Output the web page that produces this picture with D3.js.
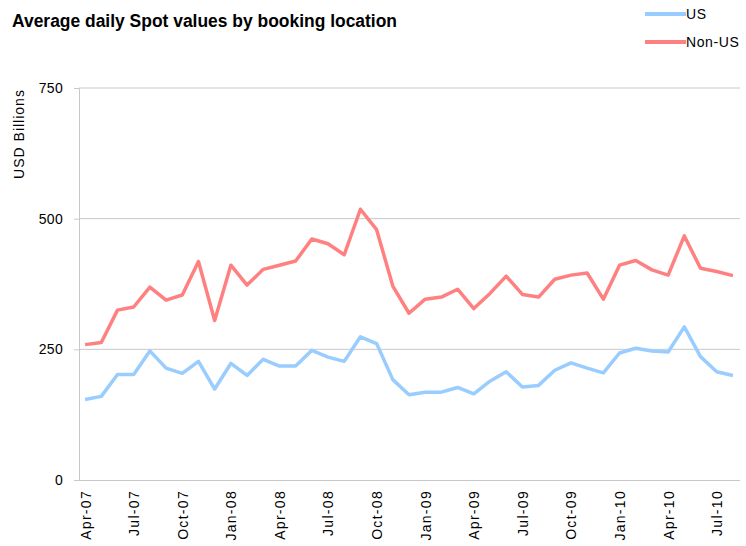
<!DOCTYPE html>
<html lang="en">
<head>
    <meta charset="UTF-8">
    <title>Average daily Spot values by booking location</title>
    <script src="https://d3js.org/d3.v7.min.js"></script>
    <style>
        body { margin: 0; background: #fff; }
        .title {
            font-family: "Liberation Sans Narrow", "Arial Narrow", "Liberation Sans", sans-serif;
            font-weight: bold;
            font-size: 18px;
        }
        .axis text {
            font-family: "Liberation Sans", Arial, sans-serif;
            font-size: 14px;
            fill: #000;
        }
        .axis-label, .legend text {
            font-family: "Liberation Sans", Arial, sans-serif;
            font-size: 14px;
        }
        .line { fill: none; stroke-width: 3.5px; stroke-linejoin: round; }
    </style>
</head>
<body>
    <div id="chart"></div>
    <script>
        // Data
        const months = ["Apr-07","May-07","Jun-07","Jul-07","Aug-07","Sep-07","Oct-07","Nov-07","Dec-07",
                        "Jan-08","Feb-08","Mar-08","Apr-08","May-08","Jun-08","Jul-08","Aug-08","Sep-08",
                        "Oct-08","Nov-08","Dec-08","Jan-09","Feb-09","Mar-09","Apr-09","May-09","Jun-09",
                        "Jul-09","Aug-09","Sep-09","Oct-09","Nov-09","Dec-09","Jan-10","Feb-10","Mar-10",
                        "Apr-10","May-10","Jun-10","Jul-10","Aug-10"];
        const usValues = [154,160,202,202,247,214,204,227,174,223,200,231,218,218,248,235,227,274,
                          261,192,163,168,168,177,165,189,207,178,181,210,224,214,205,243,252,247,
                          245,293,236,207,200];
        const nonUsValues = [259,263,325,331,369,344,354,418,305,411,373,403,411,419,461,452,431,518,
                             479,371,319,346,350,365,328,357,390,355,350,384,392,396,346,411,420,402,
                             392,467,405,399,391];
        const tickLabels = ["Apr-07","Jul-07","Oct-07","Jan-08","Apr-08","Jul-08","Oct-08","Jan-09",
                            "Apr-09","Jul-09","Oct-09","Jan-10","Apr-10","Jul-10"];
        const yTicks = [0, 250, 500, 750];
        const series = [
            { name: "US", values: usValues, color: "#99ccff" },
            { name: "Non-US", values: nonUsValues, color: "#ff8080" }
        ];

        const width = 746, height = 546;
        const plot = { left: 79, right: 740, top: 88, bottom: 480 };

        const svg = d3.select("#chart")
                      .append("svg")
                      .attr("width", width)
                      .attr("height", height);

        // Scales
        const x = d3.scalePoint()
                    .domain(months)
                    .range([plot.left - 2, plot.right + 1])
                    .padding(0.5);

        const y = d3.scaleLinear()
                    .domain([0, 750])
                    .range([plot.bottom, plot.top]);

        // Y axis + gridlines
        const yAxis = svg.append("g")
           .attr("class", "axis")
           .attr("transform", `translate(${plot.left},0)`)
           .call(d3.axisLeft(y).tickValues(yTicks).tickSize(5).tickPadding(11));
        yAxis.select(".domain").attr("stroke", "#c8c8c8");
        yAxis.selectAll(".tick line").attr("stroke", "#c8c8c8");
        yAxis.selectAll(".tick text").style("letter-spacing", "0.3px");

        svg.append("g")
           .selectAll("line")
           .data(yTicks.filter(d => d > 0))
           .join("line")
           .attr("x1", plot.left)
           .attr("x2", plot.right)
           .attr("y1", d => y(d))
           .attr("y2", d => y(d))
           .attr("stroke", "#c8c8c8");

        // X axis
        const xAxis = svg.append("g")
           .attr("class", "axis")
           .attr("transform", `translate(0,${plot.bottom})`)
           .call(d3.axisBottom(x).tickValues(tickLabels).tickSize(0).tickPadding(0));
        xAxis.select(".domain").attr("stroke", "#c8c8c8").attr("d", `M${plot.left - 5},0.5H${plot.right}`);
        xAxis.selectAll(".tick text")
             .attr("transform", "rotate(-90)")
             .attr("text-anchor", "end")
             .attr("x", -10)
             .attr("y", 0)
             .attr("dy", "0.35em")
             .style("letter-spacing", "1.3px");

        // Lines
        const line = d3.line()
                       .x((d, i) => x(months[i]))
                       .y(d => y(d));

        svg.append("g")
           .selectAll("path")
           .data(series)
           .join("path")
           .attr("class", "line")
           .attr("stroke", d => d.color)
           .attr("d", d => line(d.values));

        // Y axis label
        svg.append("text")
           .attr("class", "axis-label")
           .attr("text-anchor", "middle")
           .attr("transform", "rotate(-90)")
           .attr("x", -134)
           .attr("y", 24)
           .style("letter-spacing", "1px")
           .text("USD Billions");

        // Title
        svg.append("text")
           .attr("class", "title")
           .attr("x", 12)
           .attr("y", 27)
           .attr("textLength", 385)
           .attr("lengthAdjust", "spacingAndGlyphs")
           .text("Average daily Spot values by booking location");

        // Legend
        const legend = svg.append("g")
           .attr("class", "legend")
           .selectAll("g")
           .data(series)
           .join("g")
           .attr("transform", (d, i) => `translate(645,${14 + i * 28})`);
        legend.append("line")
              .attr("x1", 0).attr("x2", 41)
              .attr("stroke", d => d.color)
              .attr("stroke-width", 4);
        legend.append("text")
              .attr("x", 41)
              .attr("dy", "0.35em")
              .style("letter-spacing", "0.6px")
              .text(d => d.name);
    </script>
</body>
</html>
